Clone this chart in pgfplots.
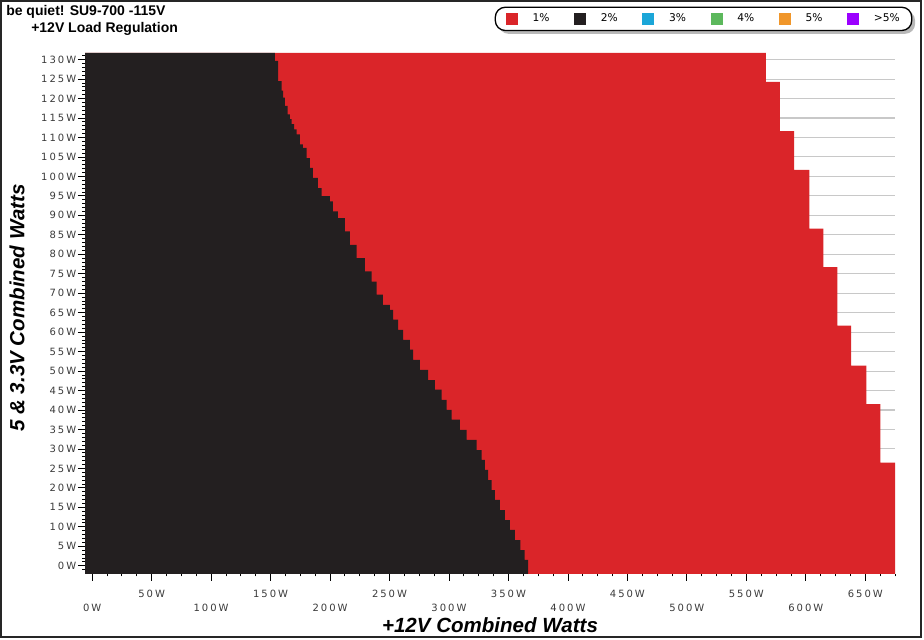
\documentclass[border=0pt]{standalone}
\usepackage{fontspec}
\setmainfont{Liberation Sans}
\newfontfamily\tickfont[LetterSpace=20]{DejaVu Sans}
\newfontfamily\legfont{DejaVu Sans}
\usepackage{pgfplots}
\pgfplotsset{compat=1.18}
\usetikzlibrary{shadows}
\definecolor{cred}{HTML}{DA2529}
\definecolor{cblack}{HTML}{231F20}
\definecolor{ccyan}{HTML}{1BA6D8}
\definecolor{cgreen}{HTML}{5CB85C}
\definecolor{corange}{HTML}{F0962A}
\definecolor{cpurple}{HTML}{9B00FF}
\definecolor{cgrid}{HTML}{C8C8C8}
\definecolor{ctick}{HTML}{3A3A3A}
\pgfplotsset{
  layers/mylayers/.define layer set={
    axis background,axis grid,pre main,main,axis ticks,axis lines,axis tick labels,axis descriptions,axis foreground
  }{},
}
\begin{document}
\begin{tikzpicture}
\path (0pt,0pt) rectangle (693pt,-479.25pt);
\draw[line width=1.1pt, black!85] (0.75pt,-0.75pt) rectangle (690.75pt,-477.75pt);
\node[anchor=west, inner sep=0pt, font=\bfseries\fontsize{10.5}{12}\selectfont] at (4.5pt,-9pt) {be quiet! SU9-700 -115V};
\node[anchor=west, inner sep=0pt, font=\bfseries\fontsize{10.5}{12}\selectfont] at (23.25pt,-21.75pt) {+12V Load Regulation};
\begin{axis}[
  set layers=mylayers,
  at={(63.75pt,-430.125pt)}, anchor=south west, scale only axis,
  width=607.5pt, height=390.4pt,
  xmin=-6, xmax=675, ymin=-2, ymax=131.7,
  axis x line*=bottom, axis y line*=left,
  axis line style={line width=0.75pt, black, -},
  tick align=outside,
  tick style={black, line width=0.6pt},
  major tick length=5.3pt, minor tick length=2.2pt,
  xtick={50,150,250,350,450,550,650},
  xticklabels={50W,150W,250W,350W,450W,550W,650W},
  extra x ticks={0,100,200,300,400,500,600},
  extra x tick labels={0W,100W,200W,300W,400W,500W,600W},
  extra x tick style={xticklabel style={yshift=-10.5pt}},
  minor xtick={0,12.5,...,675},
  ytick={0,5,...,130},
  yticklabels={0W,5W,10W,15W,20W,25W,30W,35W,40W,45W,50W,55W,60W,65W,70W,75W,80W,85W,90W,95W,100W,105W,110W,115W,120W,125W,130W},
  minor ytick={-1,0,...,131},
  ymajorgrids, grid style={cgrid, line width=0.8pt},
  ticklabel style={font=\tickfont\fontsize{7.5}{9}\selectfont, text=ctick},
  xticklabel style={yshift=-3.75pt},
  yticklabel style={xshift=2.25pt},
  xlabel={+12V Combined Watts},
  xlabel style={font=\bfseries\itshape\fontsize{15.4}{18}\selectfont, at={(axis description cs:0.5,-0.099)}, anchor=center},
  ylabel={5 \& 3.3V Combined Watts},
  ylabel style={font=\bfseries\itshape\fontsize{15.4}{18}\selectfont, at={(axis description cs:-0.084,0.51)}, anchor=center},
  legend columns=6,
  legend image code/.code={\tikzset{every shadow/.style={opacity=0}}\fill[sharp corners,#1] (0pt,-4.5pt) rectangle (9pt,4.5pt);},
  legend style={at={(axis description cs:0.7636,1.0655)}, anchor=center,
    draw=black, line width=1pt, rounded corners=7.5pt, fill=white,
    drop shadow={shadow xshift=2.5pt, shadow yshift=-2.5pt, fill=black!55},
    font=\legfont\fontsize{8}{9.6}\selectfont,
    inner xsep=8pt, inner ysep=4pt,
    nodes={inner sep=1pt},
    /tikz/every odd column/.append style={column sep=10pt},
    /tikz/every even column/.append style={column sep=17.5pt}},
]
\addplot[fill=cred, draw=none] coordinates {
(-10,131.7) (566.5,131.7) (566.5,124.3) (578.3,124.3) (578.3,111.6) (590.1,111.6)
(590.1,101.7) (603,101.7) (603,86.6) (614.7,86.6) (614.7,76.7) (626.5,76.7)
(626.5,61.7) (638,61.7) (638,51.4) (650.9,51.4) (650.9,41.5) (662.6,41.5)
(662.6,26.5) (680,26.5) (680,-5) (-10,-5)
};
\addlegendentry{1\%}
\addplot[fill=cblack, draw=none] coordinates {
(-10,131.7) (153.6,131.7)
(153.6,129.7) (156.4,129.7)
(156.4,124.5) (159.3,124.5)
(159.3,122.0) (160.6,122.0)
(160.6,120.2) (162.0,120.2)
(162.0,118.1) (164.3,118.1)
(164.3,115.9) (166.2,115.9)
(166.2,114.7) (167.7,114.7)
(167.7,113.4) (169.9,113.4)
(169.9,112.1) (171.9,112.1)
(171.9,110.8) (174.7,110.8)
(174.7,108.2) (177.2,108.2)
(177.2,107.3) (180.3,107.3)
(180.3,104.7) (183.1,104.7)
(183.1,102.2) (185.6,102.2)
(185.6,99.6) (189.8,99.6)
(189.8,97.0) (192.9,97.0)
(192.9,94.9) (199.9,94.9)
(199.9,93.6) (202.4,93.6)
(202.4,91.0) (206.6,91.0)
(206.6,89.3) (212.5,89.3)
(212.5,85.9) (216.7,85.9)
(216.7,82.4) (222.3,82.4)
(222.3,79.0) (229.3,79.0)
(229.3,75.6) (234.9,75.6)
(234.9,73.0) (239.2,73.0)
(239.2,69.6) (244.4,69.6)
(244.4,67.0) (250.3,67.0)
(250.3,65.7) (253.1,65.7)
(253.1,63.2) (257.3,63.2)
(257.3,60.6) (261.5,60.6)
(261.5,58.0) (267.2,58.0)
(267.2,55.5) (269.9,55.5)
(269.9,52.9) (275.6,52.9)
(275.6,50.3) (282.5,50.3)
(282.5,47.7) (288.2,47.7)
(288.2,45.2) (293.8,45.2)
(293.8,42.6) (298.0,42.6)
(298.0,40.0) (302.2,40.0)
(302.2,37.5) (309.2,37.5)
(309.2,34.9) (314.8,34.9)
(314.8,32.3) (323.2,32.3)
(323.2,29.7) (327.4,29.7)
(327.4,27.2) (330.2,27.2)
(330.2,24.6) (333.0,24.6)
(333.0,22.0) (335.9,22.0)
(335.9,19.4) (338.6,19.4)
(338.6,16.9) (342.8,16.9)
(342.8,14.3) (347.0,14.3)
(347.0,11.7) (351.3,11.7)
(351.3,9.2) (355.5,9.2)
(355.5,6.6) (360.0,6.6)
(360.0,4.0) (363.5,4.0)
(363.5,1.5) (366.6,1.5)
(366.6,-5) (-10,-5)
};
\addlegendentry{2\%}
\addlegendimage{fill=ccyan, draw=none}
\addlegendentry{3\%}
\addlegendimage{fill=cgreen, draw=none}
\addlegendentry{4\%}
\addlegendimage{fill=corange, draw=none}
\addlegendentry{5\%}
\addlegendimage{fill=cpurple, draw=none}
\addlegendentry{>5\%}
\end{axis}
\end{tikzpicture}
\end{document}
